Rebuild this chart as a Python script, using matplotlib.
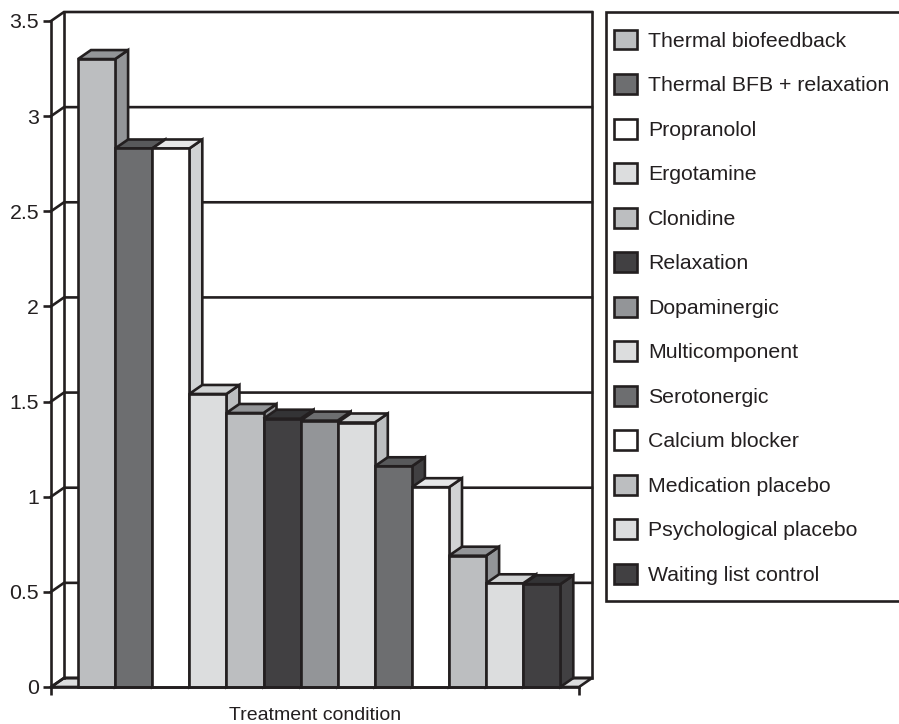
import numpy as np
import matplotlib
matplotlib.use("Agg")
import matplotlib.pyplot as plt
from matplotlib.patches import Patch, Rectangle

plt.rcParams['font.family'] = ['Liberation Sans', 'DejaVu Sans']

labels = ["Thermal biofeedback", "Thermal BFB + relaxation", "Propranolol", "Ergotamine",
          "Clonidine", "Relaxation", "Dopaminergic", "Multicomponent", "Serotonergic",
          "Calcium blocker", "Medication placebo", "Psychological placebo", "Waiting list control"]
values = [3.30, 2.83, 2.83, 1.54, 1.44, 1.41, 1.40, 1.39, 1.16, 1.05, 0.69, 0.545, 0.54]
front_cols = ["#bcbec0", "#6d6e70", "#ffffff", "#dcddde", "#bcbec0", "#414042", "#939598",
              "#dcddde", "#6d6e70", "#ffffff", "#bcbec0", "#dcddde", "#414042"]
top_cols = ["#939598", "#58595b", "#e6e7e8", "#d1d3d4", "#939598", "#333335", "#6d6e70",
            "#d1d3d4", "#58595b", "#e6e7e8", "#939598", "#d1d3d4", "#333335"]
side_cols = ["#939598", "#414042", "#d1d3d4", "#bcbec0", "#939598", "#333335", "#6d6e70",
             "#bcbec0", "#414042", "#d1d3d4", "#939598", "#bcbec0", "#414042"]
yticks = [0, 0.5, 1, 1.5, 2, 2.5, 3, 3.5]
ytick_labels = ["0", "0.5", "1", "1.5", "2", "2.5", "3", "3.5"]

ink = "#231f20"
lw = 1.9
W, H = 899, 724

fig = plt.figure(figsize=(W / 100, H / 100), dpi=100)
# axes box = front plane of the 3D chart
ax = fig.add_axes([51 / W, 1 - 687 / H, (579 - 51) / W, (687 - 21) / H])

bar_w = 37.1
xmin = 0.5 - (78 - 51) / bar_w
xmax = 0.5 + (579 - 78) / bar_w
ax.set_xlim(xmin, xmax)
ax.set_ylim(0, 3.5)

# depth of the fake 3D, in data units
dx = 13 / bar_w
dy = 9 / (666 / 3.5)

# floor and back wall
ax.fill([xmin, xmin + dx, xmax + dx, xmax], [0, dy, dy, 0], fc="#dcddde", ec=ink, lw=lw,
        clip_on=False, zorder=1)
ax.plot([xmin + dx, xmin + dx], [dy, 3.5 + dy], c=ink, lw=lw, clip_on=False, zorder=1)
ax.plot([xmax + dx, xmax + dx], [dy, 3.5 + dy], c=ink, lw=lw, clip_on=False, zorder=1)
for t in yticks:
    ax.plot([xmin, xmin + dx, xmax + dx], [t, t + dy, t + dy], c=ink, lw=lw,
            clip_on=False, zorder=1, solid_joinstyle="miter")

# bars, left to right so each one covers the side of the one before
for i, v in enumerate(values):
    x0 = i + 0.5
    x1 = i + 1.5
    z = 2 + i
    ax.fill([x1, x1 + dx, x1 + dx, x1], [0, dy, v + dy, v], fc=side_cols[i], ec=ink, lw=lw,
            clip_on=False, zorder=z, joinstyle="miter")
    ax.fill([x0, x0 + dx, x1 + dx, x1], [v, v + dy, v + dy, v], fc=top_cols[i], ec=ink, lw=lw,
            clip_on=False, zorder=z, joinstyle="miter")
    ax.bar(i + 1, v, width=1, color=front_cols[i], edgecolor=ink, linewidth=lw,
           clip_on=False, zorder=z)

for s in ["top", "right"]:
    ax.spines[s].set_visible(False)
for s in ["left", "bottom"]:
    ax.spines[s].set_linewidth(lw)
    ax.spines[s].set_color(ink)
    ax.spines[s].set_zorder(30)

ax.set_yticks(yticks)
ax.set_yticklabels(ytick_labels)
ax.set_xticks([xmin, xmax])
ax.set_xticklabels([])
ax.tick_params(axis="both", length=6, width=lw, color=ink, labelcolor=ink, labelsize=15.3, pad=2.5)
ax.set_xlabel("Treatment condition", fontsize=14, color=ink, labelpad=5.8)

# legend box runs off the right edge of the picture, so it is drawn apart from the entries
fig.add_artist(Rectangle((606 / W, 1 - 601 / H), 320 / W, 589 / H, transform=fig.transFigure,
                         fc="white", ec=ink, lw=lw))
handles = [Patch(facecolor=c, edgecolor=ink, linewidth=lw) for c in front_cols]
leg = fig.legend(handles, labels, loc="upper left", bbox_to_anchor=(614 / W, 1 - 29.5 / H),
                 bbox_transform=fig.transFigure, fontsize=15.3, frameon=False, labelcolor=ink,
                 handlelength=1.07, handleheight=1.07, handletextpad=0.52, labelspacing=1.096,
                 borderaxespad=0, borderpad=0)

fig.savefig("out.png", dpi=100)
